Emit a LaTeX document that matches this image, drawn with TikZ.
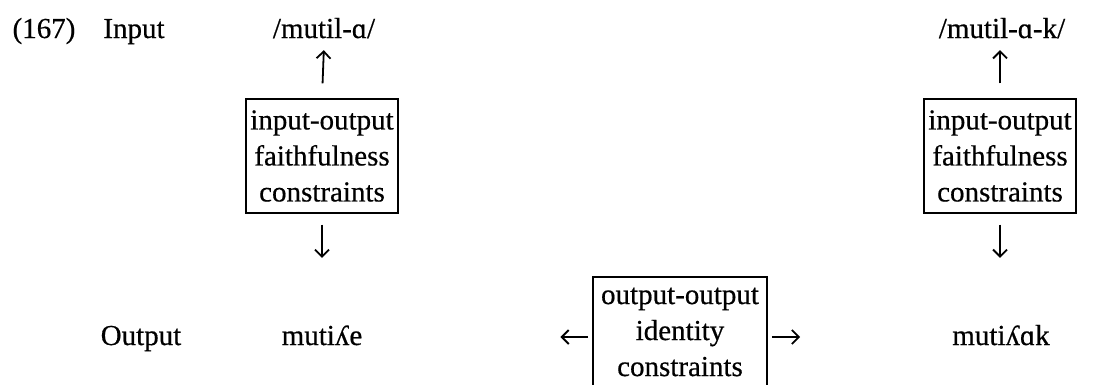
\documentclass[tikz,border=0pt]{standalone}
\usepackage{fontspec}
\setmainfont{Liberation Serif}[FakeBold=0.6]
\usetikzlibrary{arrows.meta}
\begin{document}
\begin{tikzpicture}[x=1pt,y=-1pt,
  every node/.style={font=\fontsize{29}{36}\selectfont\addfontfeature{FakeBold=0.5}},
  lbl/.style={inner sep=0pt, text height=20pt, text depth=7pt, anchor=base},
  cbox/.style={draw, line width=1.7pt, align=center, inner xsep=4pt, inner ysep=11pt},
  arr/.style={line width=1.8pt, -{Straight Barb[length=7pt,width=14pt,line width=1.8pt]}}]
\useasboundingbox (0,0) rectangle (1110,384);
\begin{scope}
\clip (0,0) rectangle (1110,384);
% labels
\node[lbl] (num) at (44,38) {(167)};
\node[lbl] (inlab) at (134,38) {Input};
\node[lbl] (outlab) at (141,345) {Output};
% forms
\node[lbl] (in1) at (324,38) {/mutil-ɑ/};
\node[lbl] (in2) at (1002,38) {/mutil-ɑ-k/};
\node[lbl] (out1) at (322,345) {mutiʎe};
\node[lbl] (out2) at (1001,345) {mutiʎɑk};
% boxes
\node[cbox] (box1) at (322,156) {input-output\\faithfulness\\constraints};
\node[cbox] (box2) at (1000,156) {input-output\\faithfulness\\constraints};
\node[cbox, inner xsep=8pt] (box3) at (680,332) {output-output\\identity\\constraints};
% arrows
\draw[arr, shorten <=15pt, shorten >=5pt] (box1.north) -- (in1.south);
\draw[arr, shorten <=11pt, shorten >=67pt] (box1.south) -- (out1.north);
\draw[arr, shorten <=15pt, shorten >=5pt] (box2.north) -- (box2.north |- in2.south);
\draw[arr, shorten <=11pt, shorten >=67pt] (box2.south) -- (box2.south |- out2.north);
\draw[arr, shorten <=4pt, shorten >=198pt] ([yshift=-5pt]box3.west) -- ([yshift=-5pt]box3.west -| out1.east);
\draw[arr, shorten <=4pt, shorten >=152pt] ([yshift=-5pt]box3.east) -- ([yshift=-5pt]box3.east -| out2.west);
\end{scope}
\end{tikzpicture}
\end{document}
